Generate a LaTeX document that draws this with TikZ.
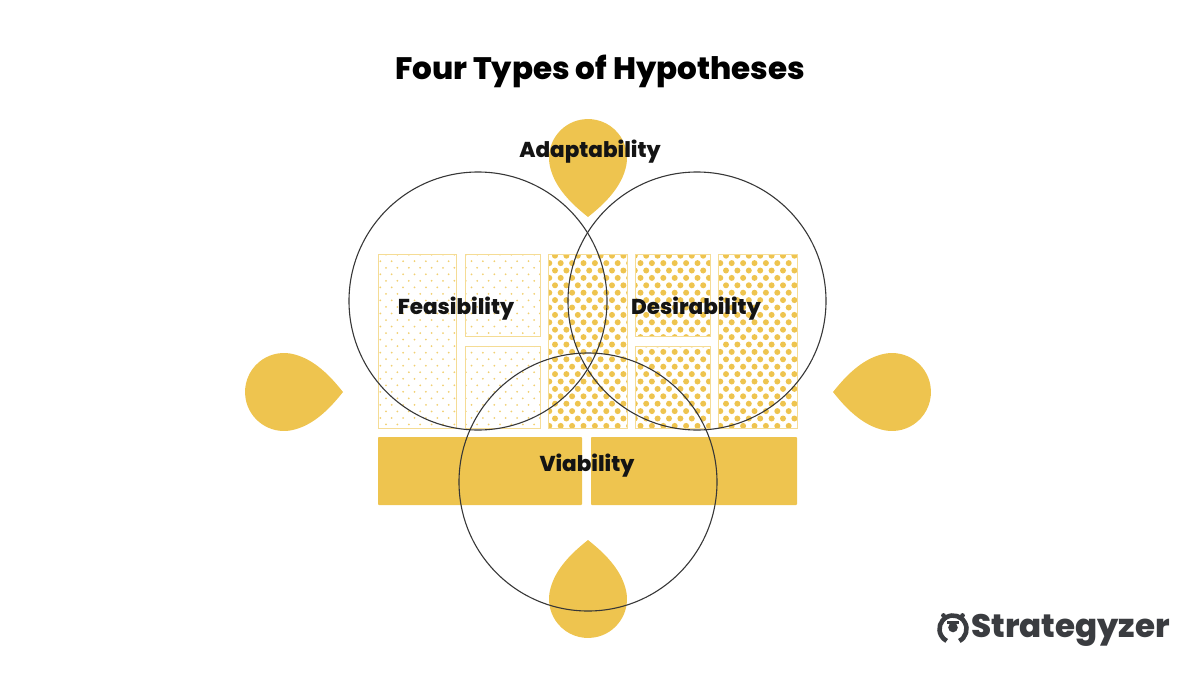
\documentclass[tikz,border=0pt]{standalone}
\usepackage{fontspec}
\setmainfont{Poppins}[BoldFont={Poppins ExtraBold}]
\usetikzlibrary{calc}

\definecolor{gold}{HTML}{EEC44F}
\definecolor{ink}{HTML}{141414}
\definecolor{logogray}{HTML}{3A3C40}

\tikzset{
  label text/.style={font=\bfseries\fontsize{21.5}{24}\selectfont, text=ink},
  venn/.style={draw=ink!85, line width=1.1pt},
  box/.style={draw=gold!60, line width=0.9pt},
  block/.style={fill=gold, rounded corners=0.8pt},
  pics/drop/.style={code={
    \fill[gold] (6.8,38.4) arc (80:280:39) .. controls (30,-34) and (47,-15) .. (59,0)
      .. controls (47,15) and (30,34) .. cycle;
  }}
}

% x1, y1, x2, y2, radius, first col, last col, first row, last row
\newcommand{\dotbox}[9]{%
  \def\dotr{#5}%
  \begin{scope}
    \clip (#1,#2) rectangle (#3,#4);
    \foreach \r in {#8,...,#9} {
      \pgfmathsetmacro{\shift}{mod(\r,2)*5.7}
      \fill[\dotcolor] foreach \c in {#6,...,#7} {
        ({\colstart+\shift+\c*11.4},{\rowstart+\r*\rowstep}) circle (\dotr)
      };
    }
  \end{scope}
  \draw[box] (#1,#2) rectangle (#3,#4);
}

\begin{document}
\begin{tikzpicture}[x=1pt,y=-1pt]

\useasboundingbox (0,0) rectangle (1200,675);

% Title
\node[font=\bfseries\fontsize{31}{34}\selectfont] (title) at (600,71) {Four Types of Hypotheses};

% Drops
\pic at (284,392) {drop};
\pic[rotate=180] at (892,392) {drop};
\pic[rotate=-90] at (588,158) {drop};
\pic[rotate=90] at (588,599) {drop};

% Sparse boxes
\def\dotcolor{gold!80}
\def\colstart{374.6}
\def\rowstart{254.7}
\def\rowstep{6.53}
\dotbox{378}{254}{456}{428}{1.0}{0}{8}{0}{27}
\dotbox{465}{254}{540}{336}{1.0}{7}{15}{0}{13}
\dotbox{465}{346}{540}{428}{1.0}{7}{15}{13}{27}

% Dense boxes
\def\dotcolor{gold}
\def\colstart{372.6}
\def\rowstart{255.7}
\def\rowstep{7.4}
\dotbox{548}{254}{627}{428}{3.0}{15}{23}{0}{24}
\dotbox{635}{254}{710}{336}{3.0}{22}{30}{0}{12}
\dotbox{635}{346}{710}{428}{3.0}{22}{30}{11}{24}
\dotbox{718}{254}{797}{428}{3.0}{30}{38}{0}{24}

% Solid blocks
\fill[block] (378,437) rectangle (582,505);
\fill[block] (591,437) rectangle (797,505);

% Circles
\draw[venn] (478,301) circle (129);
\draw[venn] (697,301) circle (129);
\draw[venn] (588,482) circle (129);

% Labels
\node[label text] (adaptability) at (590,152) {Adaptability};
\node[label text] (feasibility) at (456,309) {Feasibility};
\node[label text] (desirability) at (696,309) {Desirability};
\node[label text] (viability) at (587,466) {Viability};

% Logo
\draw[logogray, line width=4.6pt] (953,629) ++(62:13.5) arc (62:-242:13.5);
\fill[logogray] (943.5,615.5) circle (2.4);
\fill[logogray] (962.5,615.5) circle (2.4);
\fill[logogray] (953,627.5) circle (4.8);
\fill[logogray] (947,620.5) rectangle (959,623.5);
\node[font=\bfseries\fontsize{32.5}{36}\selectfont, text=logogray, anchor=west, inner sep=0pt] (logo) at (971,630) {Strategyzer};

\end{tikzpicture}
\end{document}
